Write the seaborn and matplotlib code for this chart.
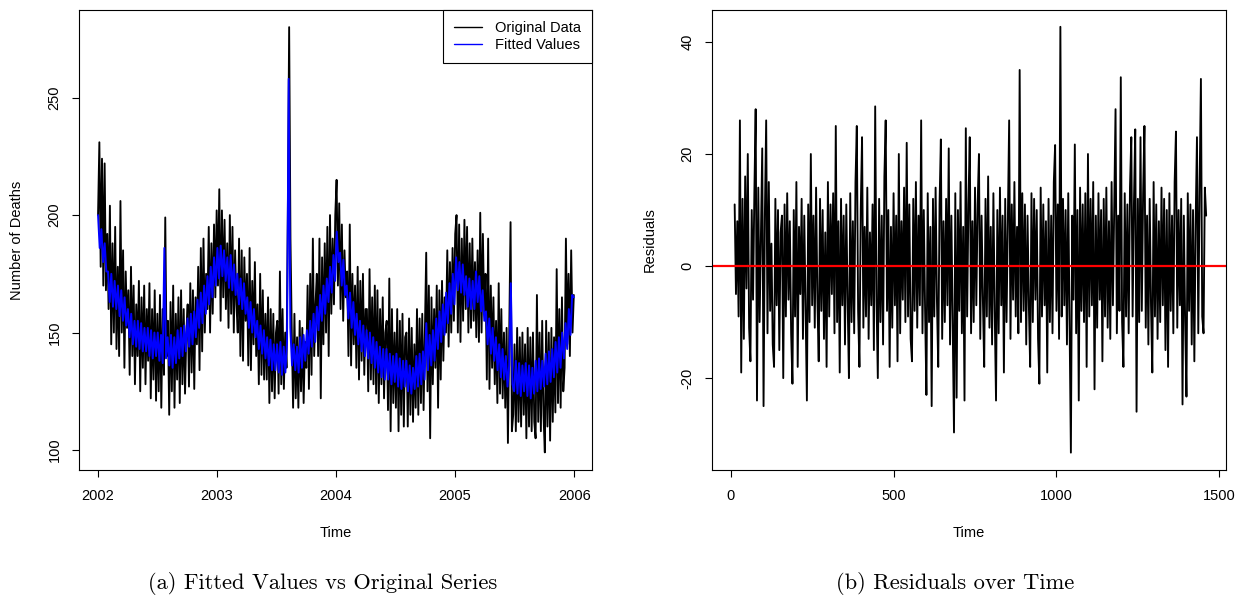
import numpy as np
import pandas as pd
import matplotlib
matplotlib.use("Agg")
import matplotlib.pyplot as plt
import seaborn as sns

# ---------------- data ----------------
# Original daily deaths, sampled roughly every 4 days, one row per month
original_2002 = [200, 231, 178, 224, 170, 222, 168, 192,
                 160, 204, 145, 188, 150, 195, 143,
                 178, 140, 206, 150, 185, 135, 176, 152,
                 168, 132, 178, 140, 170, 128, 162,
                 140, 172, 125, 165, 135, 170, 128, 160,
                 138, 171, 122, 160, 130, 168, 121,
                 158, 125, 166, 118, 160, 132, 199, 140,
                 155, 115, 163, 125, 170, 118, 158,
                 130, 165, 120, 168, 128, 160, 124, 150,
                 162, 127, 171, 133, 168, 126, 165,
                 145, 178, 134, 186, 142, 190, 150, 175,
                 160, 195, 150, 188, 158, 196, 165, 202]
original_2003 = [170, 211, 155, 202, 165, 198, 160,
                 188, 152, 200, 158, 195, 150, 185, 162,
                 150, 190, 140, 185, 138, 182, 155,
                 175, 136, 186, 134, 172, 145, 180, 140,
                 162, 128, 175, 132, 168, 130, 158,
                 130, 165, 120, 160, 125, 158, 122, 150,
                 155, 124, 176, 128, 160, 126, 150,
                 135, 200, 280, 190, 150, 118, 158, 122,
                 148, 118, 155, 125, 152, 120, 146,
                 135, 170, 126, 175, 132, 190, 140, 162,
                 175, 140, 190, 122, 182, 145, 188,
                 150, 195, 140, 200, 158, 190, 162, 200]
original_2004 = [215, 170, 205, 160, 196, 155, 185, 165,
                 176, 140, 196, 136, 175, 145, 170,
                 135, 178, 130, 172, 138, 175, 132, 160,
                 160, 125, 177, 130, 165, 128, 170,
                 124, 168, 120, 160, 128, 165, 122, 150,
                 155, 117, 173, 108, 160, 120, 150,
                 118, 160, 108, 155, 115, 158, 110, 148,
                 150, 110, 156, 115, 152, 112, 145,
                 118, 160, 115, 156, 120, 158, 117, 150,
                 184, 125, 170, 105, 165, 128, 160,
                 135, 170, 118, 168, 130, 172, 138, 165,
                 150, 185, 144, 180, 150, 186, 155, 192]
original_2005 = [200, 150, 196, 146, 190, 155, 198,
                 160, 195, 150, 188, 152, 190, 155, 180,
                 148, 185, 146, 201, 150, 192, 158,
                 175, 130, 190, 126, 170, 135, 165, 128,
                 155, 120, 171, 124, 160, 122, 150,
                 118, 152, 103, 150, 197, 108, 115, 145,
                 108, 152, 112, 148, 110, 150, 115,
                 145, 105, 152, 110, 148, 108, 150, 112,
                 105, 166, 112, 150, 108, 155, 115,
                 99, 155, 110, 150, 104, 152, 112, 148,
                 116, 177, 120, 160, 118, 165, 125,
                 135, 190, 145, 175, 140, 185, 150, 166]

# Fitted values, sampled about every 5 days, one row per month
fitted_2002 = [200, 186, 194, 180, 188, 176,
               176, 163, 175, 161, 172, 160,
               170, 157, 168, 155, 165, 153,
               160, 148, 158, 145, 155, 144,
               155, 143, 154, 142, 152, 142,
               152, 140, 151, 139, 150, 140,
               150, 138, 149, 137, 186, 139,
               148, 136, 149, 135, 148, 137,
               151, 139, 152, 140, 153, 142,
               156, 144, 158, 145, 159, 148,
               164, 152, 167, 154, 170, 158,
               174, 162, 178, 165, 182, 170]
fitted_2003 = [186, 173, 187, 174, 185, 172,
               182, 169, 183, 168, 179, 166,
               175, 162, 173, 160, 171, 158,
               165, 152, 163, 150, 160, 148,
               155, 143, 153, 141, 151, 139,
               148, 136, 147, 134, 145, 134,
               145, 133, 146, 132, 144, 133,
               146, 258, 152, 136, 145, 134,
               144, 133, 148, 135, 149, 138,
               151, 141, 155, 144, 158, 146,
               161, 151, 166, 155, 170, 158,
               173, 163, 178, 167, 183, 172]
fitted_2004 = [193, 180, 184, 170, 181, 166,
               170, 156, 167, 152, 163, 149,
               158, 145, 155, 142, 153, 140,
               151, 139, 150, 137, 148, 135,
               146, 133, 144, 131, 143, 130,
               143, 130, 141, 128, 140, 129,
               141, 127, 139, 126, 138, 127,
               138, 125, 136, 124, 135, 126,
               140, 127, 141, 128, 142, 130,
               154, 134, 149, 136, 151, 138,
               156, 143, 159, 146, 162, 149,
               167, 154, 171, 158, 175, 162]
fitted_2005 = [182, 168, 180, 167, 179, 166,
               174, 161, 173, 160, 172, 160,
               176, 163, 174, 159, 168, 155,
               159, 145, 156, 141, 152, 138,
               148, 134, 145, 131, 143, 130,
               140, 127, 136, 171, 128, 125,
               138, 124, 137, 123, 136, 125,
               137, 123, 136, 122, 135, 124,
               138, 125, 139, 126, 138, 127,
               141, 128, 142, 129, 143, 131,
               146, 133, 148, 135, 150, 139,
               154, 143, 160, 149, 166, 165]

# Residuals (observation index 12 .. 1460, sampled about every 4 observations)
residuals = [
    11, -5, 8, -9, 26, -19, 12, -13, 16, -4, 20, -11, -17, 10, -6, 13, 28, -24, 14, -10,
    5, 21, -25, 9, 26, -12, 15, -8, 4, -14, -18, 12, -7, 10, -15, 6, 9, -20, 11, -9,
    13, -6, 8, -12, -21, 10, -9, 15, -18, 7, -5, 12, -13, 9, -8, -24, 11, -10, 20, -7,
    9, -11, 14, -6, -17, 12, -8, 10, -13, 6, -18, 15, -9, 11, -5, 13, -12, 25, -10, 8,
    -19, 12, -7, 9, -14, 11, -6, -20, 13, -10, 8, -12, 15, 25, -8, -18, 10, 23, -11, 7,
    -9, 14, -13, 6, -7, 11, -15, 28.5, -6, -20, 12, -10, 9, -14, 16, 26, -8, 10, -18, 7,
    -11, 13, -7, 9, -17, 20, -12, 8, -6, 14, -10, 22, -9, 11, -13, -17, 12, -8, 15, -11,
    9, -7, 26, -12, 10, -8, -23, 13, -10, 7, -25, 12, -9, 14, -6, -18, 11, 22.6, -13, 8,
    -10, 12, -7, 21, -14, 9, -11, -29.7, 13, -23.5, 10, -8, 15, -12, 7, -24, 24.6, -9, 11, 23,
    -12, 8, -10, 14, -7, 11, 20, -13, 9, -6, -18, 12, -9, 16, -11, 7, -14, 13, -8, -24,
    10, -12, 14, -7, 9, -19, 12, -10, 8, 26, -13, 11, -6, 15, -9, 7, -12, 35, -10, 13,
    -8, 11, -14, 9, -7, -18, 13, -10, 12, -6, 10, -13, -21, 14, -9, 11, -7, 8, -19, 12,
    -10, 9, -12, 15, 21.6, -8, 11, -13, 42.7, -9, 12, -7, 10, -14, 13, -11, -33.3, 9, -6, 21.7,
    -12, 10, -24, 14, -8, 11, -10, 13, -18, 20, -9, 12, -7, 15, -22, 9, -11, 13, -6, 10,
    -17, 12, -9, 14, -11, 8, -13, 15, -7, 10, 28, -12, 9, -8, 33.7, -10, -18, 13, -9, 11,
    -12, 14, 23, -9, 11, 24.4, -26, 12, -10, 23, -8, 13, 25, -11, 9, -14, 12, -7, -19, 15,
    -9, 11, -13, 8, -10, 14, -7, 12, -15, 10, -18, 13, -8, 9, -12, 15, 24, -11, 10, -7,
    12, -24.7, 9, -10, -23.3, 13, -8, 11, -14, 10, -17, 8, 23, -12, 14, 33.4, -9, -12, 14, 9,
]

year_ticks = [2002, 2003, 2004, 2005, 2006]
deaths_ticks = [100, 150, 200, 250]
index_ticks = [0, 500, 1000, 1500]
resid_ticks = [-20, 0, 20, 40]
legend_labels = ["Original Data", "Fitted Values"]
caption_a = "(a) Fitted Values vs Original Series"
caption_b = "(b) Residuals over Time"

# ---------------- assemble ----------------
original = np.array(original_2002 + original_2003 + original_2004 + original_2005, float)
fitted = np.array(fitted_2002 + fitted_2003 + fitted_2004 + fitted_2005, float)
resid = np.array(residuals, float)

t_start, t_end = 2002.0, 2006.0 - 1.0 / 365.0
df_orig = pd.DataFrame({"time": np.linspace(t_start, t_end, len(original)), "value": original})
df_fit = pd.DataFrame({"time": np.linspace(t_start, t_end, len(fitted)), "value": fitted})
df_res = pd.DataFrame({"index": np.linspace(12, 1460, len(resid)), "resid": resid})

# ---------------- style ----------------
sns.set_style("ticks")
plt.rcParams["font.family"] = ["Liberation Sans", "DejaVu Sans"]
plt.rcParams["font.size"] = 10.5
plt.rcParams["axes.edgecolor"] = "black"
plt.rcParams["axes.labelcolor"] = "black"
plt.rcParams["text.color"] = "black"
plt.rcParams["axes.linewidth"] = 0.8

fig = plt.figure(figsize=(12.44, 5.95), dpi=100)
W, H = 1244.0, 595.0
ax1 = fig.add_axes([79 / W, 1 - 470 / H, 513 / W, 460 / H])
ax2 = fig.add_axes([711.7 / W, 1 - 470 / H, 514 / W, 460 / H])

# left panel
sns.lineplot(data=df_orig, x="time", y="value", ax=ax1, color="black", lw=1.35,
             estimator=None, sort=False, label=legend_labels[0])
sns.lineplot(data=df_fit, x="time", y="value", ax=ax1, color="#0000FF", lw=1.4,
             estimator=None, sort=False, label=legend_labels[1])
ax1.set_xlim(2001.84, 2006.15)
ax1.set_ylim(91.5, 287.3)
ax1.set_xticks(year_ticks)
ax1.set_xticklabels([str(v) for v in year_ticks])
ax1.set_yticks(deaths_ticks)
ax1.set_yticklabels([str(v) for v in deaths_ticks])
ax1.set_xlabel("Time")
ax1.set_ylabel("Number of Deaths")
leg = ax1.legend(loc="upper right", bbox_to_anchor=(1, 1), borderaxespad=0,
                 fancybox=False, framealpha=1, edgecolor="black",
                 handlelength=1.9, handletextpad=0.9, borderpad=0.75,
                 labelspacing=0.2, fontsize=10.5)
leg.get_frame().set_linewidth(0.8)
for h in leg.get_lines():
    h.set_linewidth(1.0)

# right panel
sns.lineplot(data=df_res, x="index", y="resid", ax=ax2, color="black", lw=1.35,
             estimator=None, sort=False)
ax2.axhline(0, color="red", lw=1.6)
ax2.set_xlim(-58.5, 1520)
ax2.set_ylim(-36.4, 45.7)
ax2.set_xticks(index_ticks)
ax2.set_xticklabels([str(v) for v in index_ticks])
ax2.set_yticks(resid_ticks)
ax2.set_yticklabels([str(v) for v in resid_ticks])
ax2.set_xlabel("Time")
ax2.set_ylabel("Residuals")

for ax in (ax1, ax2):
    for s in ax.spines.values():
        s.set_visible(True)
        s.set_color("black")
        s.set_linewidth(0.8)
    ax.tick_params(axis="both", direction="out", length=5, width=0.8, colors="black",
                   labelsize=10.5)
    ax.tick_params(axis="x", pad=8.5)
    ax.tick_params(axis="y", pad=7.5, labelrotation=90)
    for lab in ax.get_yticklabels():
        lab.set_va("center")
    ax.xaxis.set_label_coords(0.5, -63 / 460)
    ax.xaxis.label.set_va("center")
    ax.xaxis.label.set_size(10.5)
    ax.yaxis.label.set_size(10.5)
    ax.grid(False)

ax1.yaxis.set_label_coords(-62 / 513, 0.5)
ax1.yaxis.label.set_va("center")
ax2.yaxis.set_label_coords(-61.7 / 514, 0.5)
ax2.yaxis.label.set_va("center")

fig.text(322.5 / W, 1 - 589.3 / H, caption_a, ha="center", va="baseline",
         family="cmr10", fontsize=16.2)
fig.text(955 / W, 1 - 589.3 / H, caption_b, ha="center", va="baseline",
         family="cmr10", fontsize=16.2)

fig.savefig("out.png", dpi=100, facecolor="white")
